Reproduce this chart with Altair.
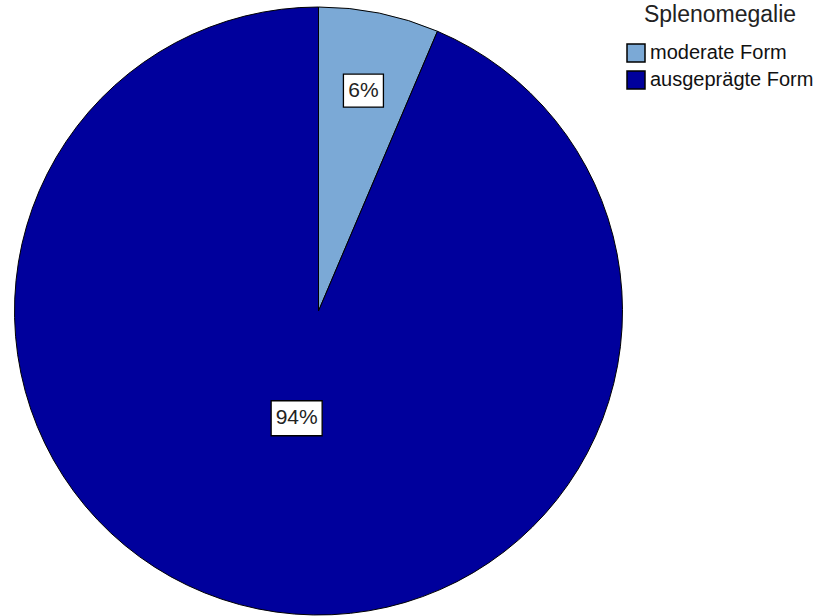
import math
import altair as alt
import pandas as pd

# ---- data ----
categories = ["moderate Form", "ausgeprägte Form"]
shares = [6.4, 93.6]            # percent of the pie
labels = ["6%", "94%"]

# ---- styles ----
colors = ["#7BA9D6", "#00009C"]
W, H = 637, 622
R = 304
label_frac = [0.74, 0.36]
box_w = [40, 51]
box_h = [33, 35]

df = pd.DataFrame({"Splenomegalie": categories, "share": shares, "order": [0, 1]})

# label anchor positions derived from the cumulative shares
rows = []
cum = 0.0
for i, (c, s, lab) in enumerate(zip(categories, shares, labels)):
    mid = (cum + s / 2) / 100 * 2 * math.pi
    cum += s
    r = label_frac[i] * R
    w, h = box_w[i], box_h[i]
    rows.append({
        "Splenomegalie": c,
        "label": lab,
        "lx": r * math.sin(mid),
        "ly": r * math.cos(mid),
        "shape": f"M-1,{-h / w:.4f}L1,{-h / w:.4f}L1,{h / w:.4f}L-1,{h / w:.4f}Z",
        "size": w * w,
    })
ldf = pd.DataFrame(rows)

color_scale = alt.Scale(domain=categories, range=colors)

pie = alt.Chart(df).mark_arc(outerRadius=R, stroke="black", strokeWidth=1).encode(
    theta=alt.Theta("share:Q", stack=True),
    order=alt.Order("order:Q"),
    color=alt.Color(
        "Splenomegalie:N",
        scale=color_scale,
        sort=categories,
        legend=alt.Legend(
            orient="none",
            legendX=626,
            legendY=4,
            title="Splenomegalie",
            titleFont="Liberation Sans",
            titleFontSize=23,
            titleFontWeight="normal",
            titleColor="#222222",
            titleAnchor="middle",
            titlePadding=16,
            titleLimit=400,
            labelFont="Liberation Sans",
            labelFontSize=20,
            labelColor="#111111",
            labelOffset=4,
            labelLimit=400,
            symbolType="square",
            symbolSize=324,
            symbolStrokeColor="black",
            symbolStrokeWidth=1.5,
            symbolOpacity=1,
            rowPadding=3,
        ),
    ),
)

xs = alt.Scale(domain=[-W / 2, W / 2], range=[0, W])
ys = alt.Scale(domain=[-H / 2, H / 2], range=[H, 0])

boxes = alt.Chart(ldf).mark_point(
    filled=True, fill="white", stroke="black", strokeWidth=1.3, opacity=1
).encode(
    x=alt.X("lx:Q", scale=xs, axis=None),
    y=alt.Y("ly:Q", scale=ys, axis=None),
    shape=alt.Shape("shape:N", scale=None),
    size=alt.Size("size:Q", scale=None),
)

texts = alt.Chart(ldf).mark_text(
    font="Liberation Sans", fontSize=21, color="#222222", align="center", baseline="middle"
).encode(
    x=alt.X("lx:Q", scale=xs, axis=None),
    y=alt.Y("ly:Q", scale=ys, axis=None),
    text="label:N",
)

chart = alt.layer(pie, boxes, texts).properties(
    width=W, height=H, padding=0, background="white"
).configure_view(stroke=None)

chart.save("out.html", embed_options={"renderer": "svg", "actions": False})
